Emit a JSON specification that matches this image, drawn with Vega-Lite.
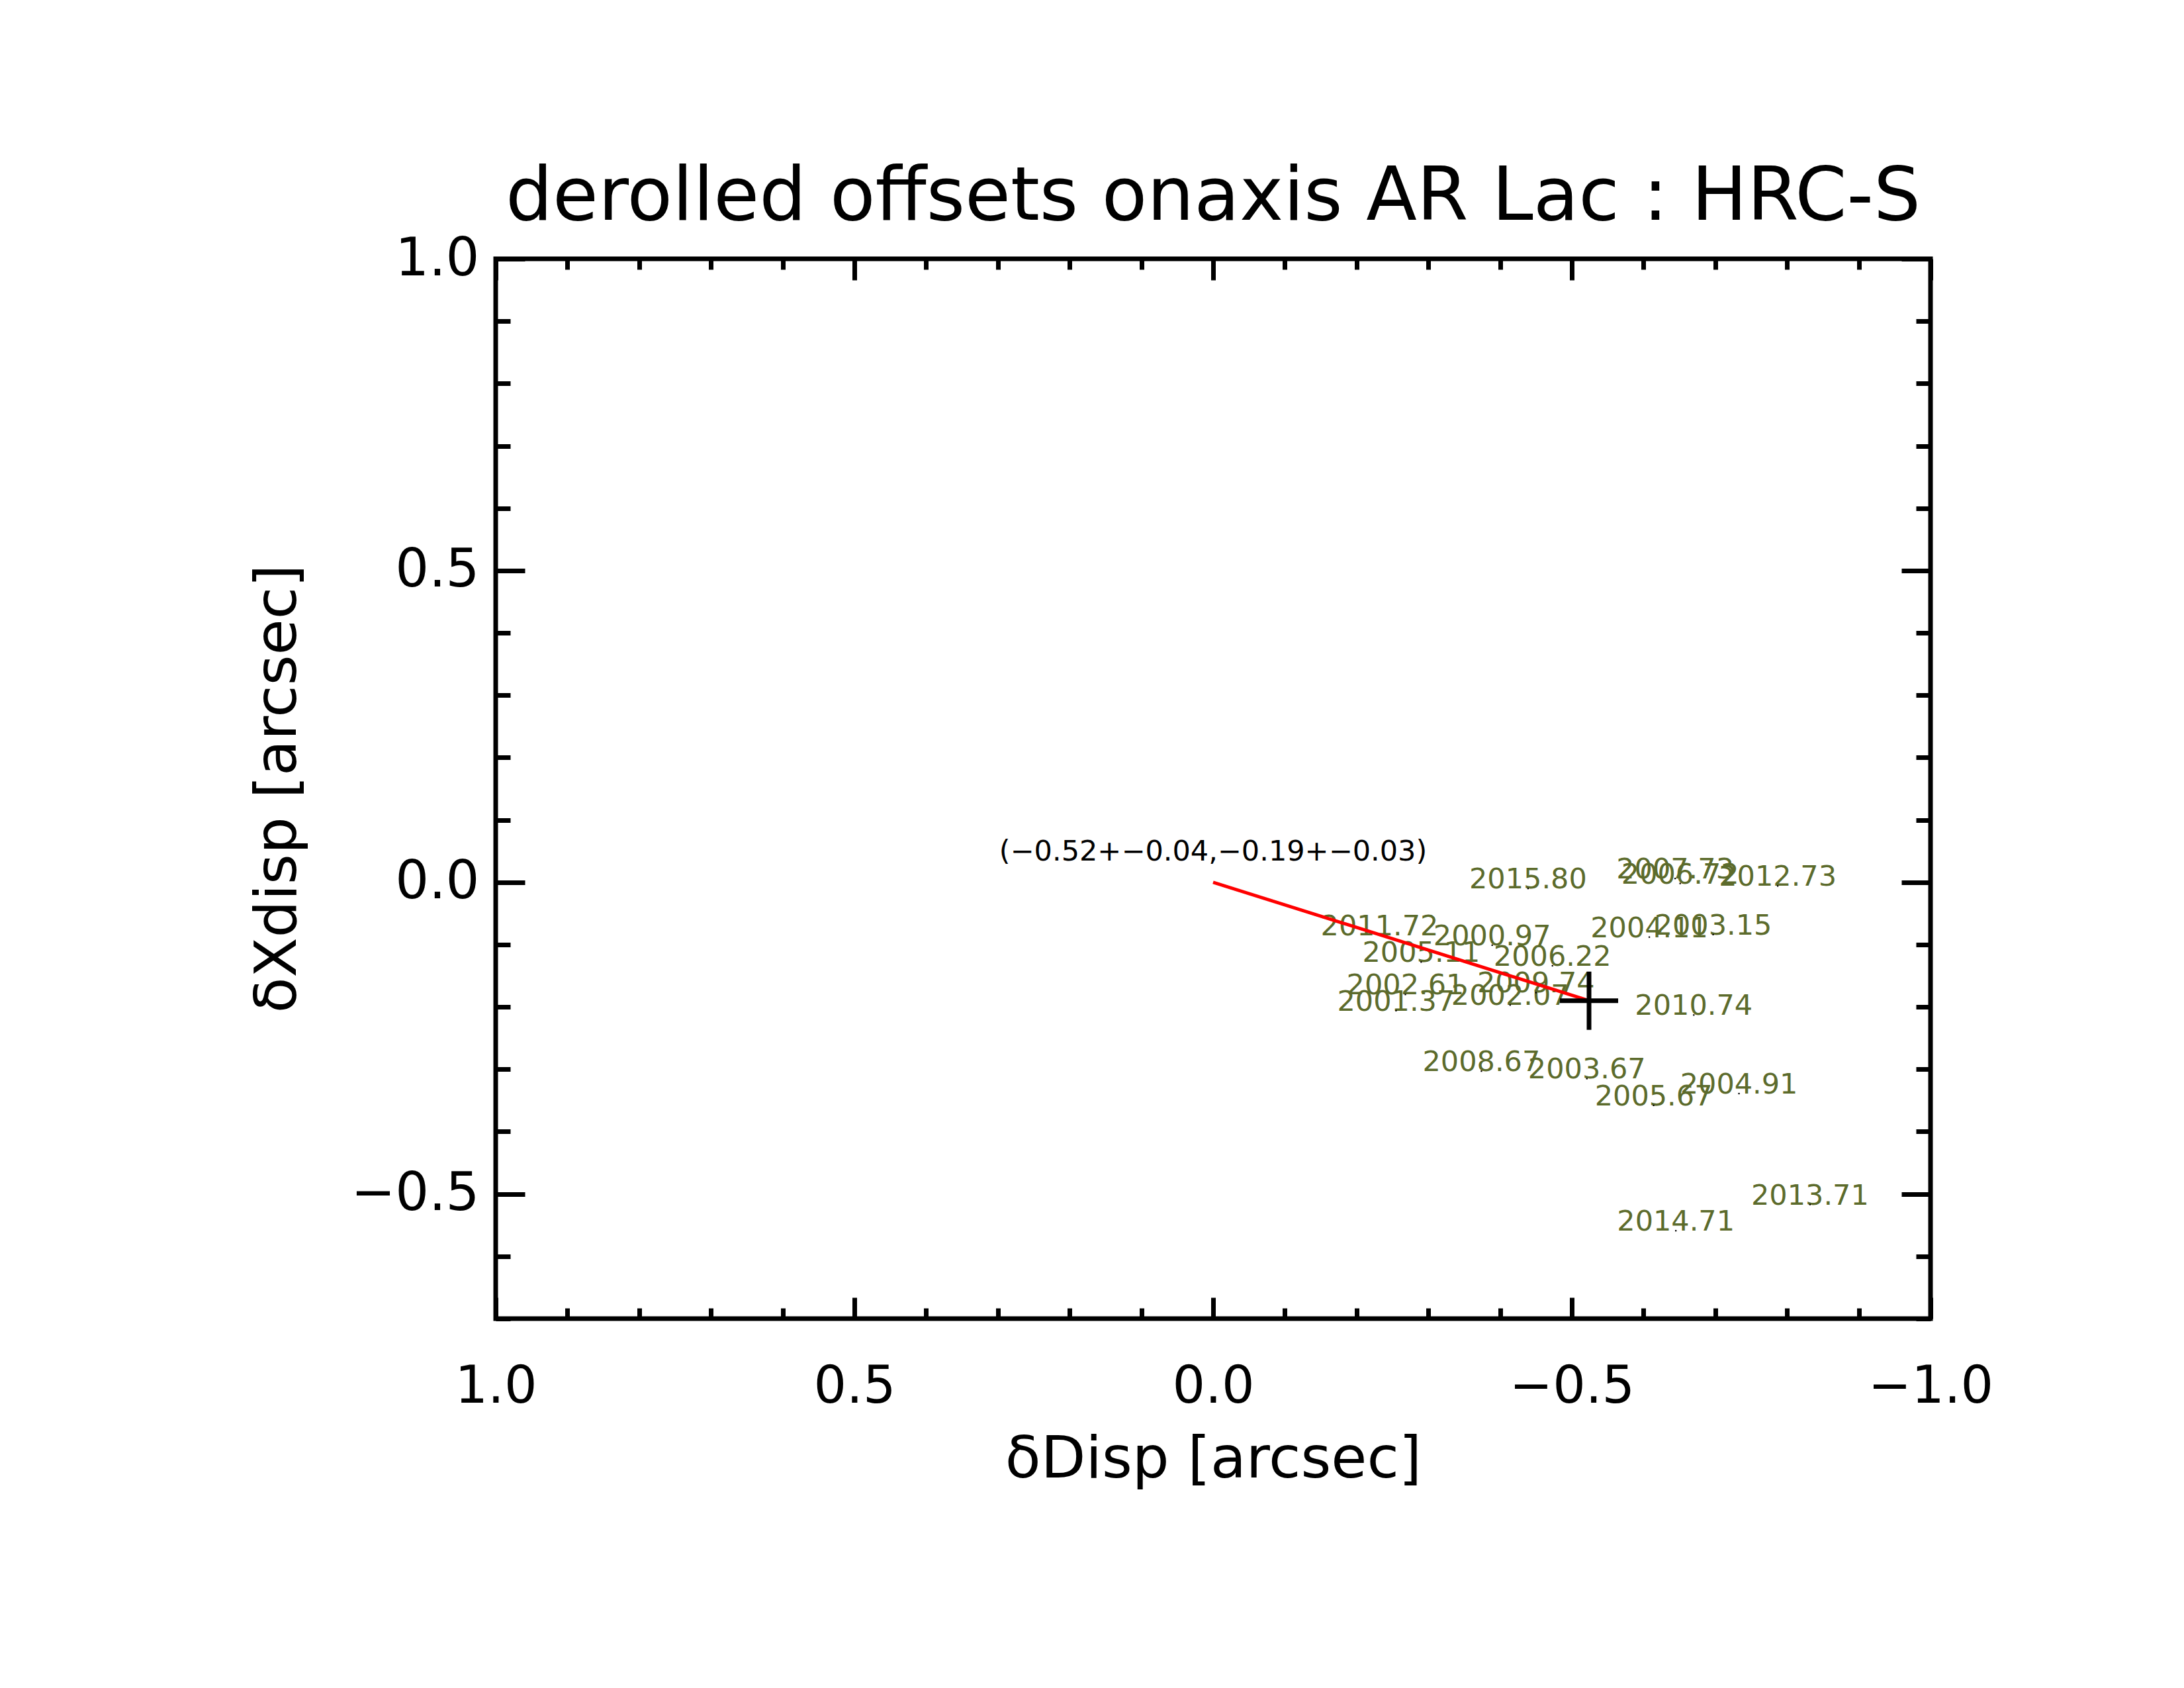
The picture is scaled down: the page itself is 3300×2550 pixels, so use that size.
{
  "$schema": "https://vega.github.io/schema/vega-lite/v6.json",
  "width": 2168,
  "height": 1601,
  "autosize": {"type": "none"},
  "padding": {"left": 749, "top": 391, "right": 383, "bottom": 558},
  "background": "white",
  "config": {
    "view": {"stroke": "black", "strokeWidth": 7},
    "font": "DejaVu Sans"
  },
  "title": {
    "text": "derolled offsets onaxis AR Lac : HRC-S",
    "fontSize": 112,
    "font": "DejaVu Sans",
    "fontWeight": "normal",
    "anchor": "middle",
    "baseline": "alphabetic",
    "offset": 44,
    "dy": 137,
    "color": "black"
  },
  "datasets": {
    "obs": [
      {"epoch": "2015.80", "dx": -0.439, "dy": -0.010},
      {"epoch": "2007.73", "dx": -0.644, "dy": 0.006},
      {"epoch": "2006.72", "dx": -0.651, "dy": -0.002},
      {"epoch": "2012.73", "dx": -0.787, "dy": -0.006},
      {"epoch": "2011.72", "dx": -0.232, "dy": -0.085},
      {"epoch": "2000.97", "dx": -0.389, "dy": -0.101},
      {"epoch": "2004.11", "dx": -0.608, "dy": -0.088},
      {"epoch": "2003.15", "dx": -0.697, "dy": -0.084},
      {"epoch": "2005.11", "dx": -0.290, "dy": -0.128},
      {"epoch": "2006.22", "dx": -0.473, "dy": -0.134},
      {"epoch": "2002.61", "dx": -0.268, "dy": -0.180},
      {"epoch": "2009.74", "dx": -0.450, "dy": -0.177},
      {"epoch": "2001.37", "dx": -0.255, "dy": -0.206},
      {"epoch": "2002.07", "dx": -0.414, "dy": -0.197},
      {"epoch": "2010.74", "dx": -0.670, "dy": -0.213},
      {"epoch": "2008.67", "dx": -0.374, "dy": -0.303},
      {"epoch": "2003.67", "dx": -0.521, "dy": -0.315},
      {"epoch": "2005.67", "dx": -0.614, "dy": -0.358},
      {"epoch": "2004.91", "dx": -0.733, "dy": -0.339},
      {"epoch": "2013.71", "dx": -0.832, "dy": -0.517},
      {"epoch": "2014.71", "dx": -0.645, "dy": -0.559}
    ],
    "fitline": [
      {"dx": 0, "dy": 0},
      {"dx": -0.524, "dy": -0.19}
    ],
    "fitpoint": [
      {"dx": -0.524, "dy": -0.19, "text": "(−0.52+−0.04,−0.19+−0.03)", "tx": 0, "ty": 0.035}
    ]
  },
  "resolve": {"axis": {"x": "independent", "y": "independent"}},
  "layer": [
    {
      "data": {"name": "obs"},
      "mark": {"type": "text", "align": "center", "baseline": "alphabetic", "fontSize": 43, "font": "DejaVu Sans", "color": "#5c6b2c"},
      "encoding": {
        "x": {
          "field": "dx", "type": "quantitative",
          "scale": {"domain": [-1, 1], "reverse": true, "nice": false, "zero": false},
          "axis": {
            "orient": "bottom",
            "values": [-1, -0.9, -0.8, -0.7, -0.6, -0.5, -0.4, -0.3, -0.2, -0.1, 0, 0.1, 0.2, 0.3, 0.4, 0.5, 0.6, 0.7, 0.8, 0.9, 1],
            "format": ".1f",
            "labelExpr": "abs(datum.value*2 - round(datum.value*2)) < 0.001 ? datum.label : ''",
            "labelOverlap": false, "labelFlush": false, "labelBound": false, "labelLimit": 0,
            "domain": false, "grid": false,
            "ticks": true,
            "tickSize": {"condition": {"test": "abs(datum.value*2 - round(datum.value*2)) < 0.001", "value": -32}, "value": -16},
            "tickWidth": 7, "tickColor": "black",
            "labelFont": "DejaVu Sans", "labelFontSize": 78, "labelColor": "black",
            "labelBaseline": "alphabetic", "labelPadding": 158,
            "title": "δDisp [arcsec]",
            "titleFont": "DejaVu Sans", "titleFontSize": 88, "titleFontWeight": "normal", "titleColor": "black",
            "titleX": 1084, "titleY": 239, "titleBaseline": "alphabetic", "titleAlign": "center"
          }
        },
        "y": {
          "field": "dy", "type": "quantitative",
          "scale": {"domain": [-0.7, 1.0], "nice": false, "zero": false},
          "axis": {
            "orient": "left",
            "values": [-0.7, -0.6, -0.5, -0.4, -0.3, -0.2, -0.1, 0, 0.1, 0.2, 0.3, 0.4, 0.5, 0.6, 0.7, 0.8, 0.9, 1.0],
            "format": ".1f",
            "labelExpr": "abs(datum.value*2 - round(datum.value*2)) < 0.001 ? datum.label : ''",
            "labelOverlap": false, "labelFlush": false, "labelBound": false, "labelLimit": 0,
            "domain": false, "grid": false,
            "ticks": true,
            "tickSize": {"condition": {"test": "abs(datum.value*2 - round(datum.value*2)) < 0.001", "value": -44}, "value": -22},
            "tickWidth": 7, "tickColor": "black",
            "labelFont": "DejaVu Sans", "labelFontSize": 80, "labelColor": "black",
            "labelBaseline": "middle", "labelAlign": "right", "labelPadding": 69,
            "title": "δXdisp [arcsec]",
            "titleFont": "DejaVu Sans", "titleFontSize": 88, "titleFontWeight": "normal", "titleColor": "black",
            "titleX": -303, "titleY": 800, "titleAngle": -90, "titleBaseline": "alphabetic", "titleAlign": "center"
          }
        },
        "text": {"field": "epoch", "type": "nominal"}
      }
    },
    {
      "data": {"name": "obs"},
      "mark": {"type": "point", "shape": "square", "size": 5, "filled": true, "color": "black", "opacity": 1},
      "encoding": {
        "x": {
          "field": "dx", "type": "quantitative",
          "scale": {"domain": [-1, 1], "reverse": true, "nice": false, "zero": false},
          "axis": {
            "orient": "top",
            "values": [-1, -0.9, -0.8, -0.7, -0.6, -0.5, -0.4, -0.3, -0.2, -0.1, 0, 0.1, 0.2, 0.3, 0.4, 0.5, 0.6, 0.7, 0.8, 0.9, 1],
            "labels": false, "domain": false, "grid": false, "title": null,
            "ticks": true,
            "tickSize": {"condition": {"test": "abs(datum.value*2 - round(datum.value*2)) < 0.001", "value": -32}, "value": -16},
            "tickWidth": 7, "tickColor": "black"
          }
        },
        "y": {
          "field": "dy", "type": "quantitative",
          "scale": {"domain": [-0.7, 1.0], "nice": false, "zero": false},
          "axis": {
            "orient": "right",
            "values": [-0.7, -0.6, -0.5, -0.4, -0.3, -0.2, -0.1, 0, 0.1, 0.2, 0.3, 0.4, 0.5, 0.6, 0.7, 0.8, 0.9, 1.0],
            "labels": false, "domain": false, "grid": false, "title": null,
            "ticks": true,
            "tickSize": {"condition": {"test": "abs(datum.value*2 - round(datum.value*2)) < 0.001", "value": -44}, "value": -22},
            "tickWidth": 7, "tickColor": "black"
          }
        }
      }
    },
    {
      "data": {"name": "fitline"},
      "mark": {"type": "line", "color": "#ff0000", "strokeWidth": 5},
      "encoding": {
        "x": {"field": "dx", "type": "quantitative", "scale": {"domain": [-1, 1], "reverse": true, "nice": false, "zero": false}, "axis": null},
        "y": {"field": "dy", "type": "quantitative", "scale": {"domain": [-0.7, 1.0], "nice": false, "zero": false}, "axis": null}
      }
    },
    {
      "data": {"name": "fitpoint"},
      "mark": {"type": "point", "shape": "M-1,0L1,0M0,-1L0,1", "size": 7744, "filled": false, "stroke": "black", "strokeWidth": 7, "opacity": 1},
      "encoding": {
        "x": {"field": "dx", "type": "quantitative", "scale": {"domain": [-1, 1], "reverse": true, "nice": false, "zero": false}, "axis": null},
        "y": {"field": "dy", "type": "quantitative", "scale": {"domain": [-0.7, 1.0], "nice": false, "zero": false}, "axis": null}
      }
    },
    {
      "data": {"name": "fitpoint"},
      "mark": {"type": "text", "align": "center", "baseline": "alphabetic", "fontSize": 43, "font": "DejaVu Sans", "color": "black"},
      "encoding": {
        "x": {"field": "tx", "type": "quantitative", "scale": {"domain": [-1, 1], "reverse": true, "nice": false, "zero": false}, "axis": null},
        "y": {"field": "ty", "type": "quantitative", "scale": {"domain": [-0.7, 1.0], "nice": false, "zero": false}, "axis": null},
        "text": {"field": "text", "type": "nominal"}
      }
    }
  ]
}
